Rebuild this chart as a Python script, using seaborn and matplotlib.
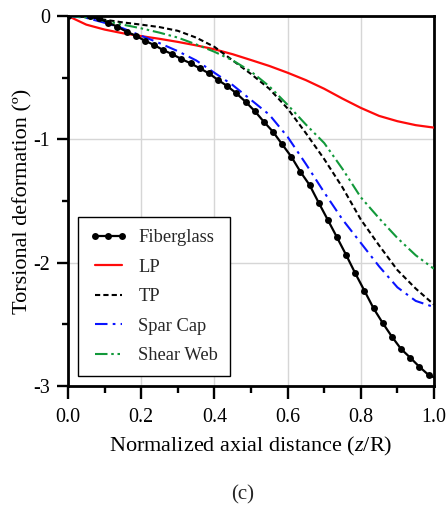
import numpy as np
import pandas as pd
import matplotlib
matplotlib.use("Agg")
import matplotlib.pyplot as plt
import seaborn as sns

# ---------------- data ----------------
z_fg = [0.0, 0.06, 0.085, 0.11, 0.135, 0.16, 0.185, 0.21, 0.235, 0.26,
        0.285, 0.31, 0.335, 0.36, 0.385, 0.41, 0.435, 0.46, 0.485, 0.51,
        0.535, 0.56, 0.585, 0.61, 0.635, 0.66, 0.685, 0.71, 0.735, 0.76,
        0.785, 0.81, 0.835, 0.86, 0.885, 0.91, 0.935, 0.96, 0.985, 1.0]
fiberglass = [0.0, 0.0, -0.02, -0.054, -0.087, -0.127, -0.16, -0.2, -0.235, -0.276,
              -0.31, -0.349, -0.384, -0.424, -0.465, -0.519, -0.568, -0.627, -0.695, -0.77,
              -0.857, -0.938, -1.04, -1.14, -1.263, -1.37, -1.514, -1.654, -1.795, -1.938,
              -2.087, -2.228, -2.371, -2.49, -2.6, -2.7, -2.77, -2.844, -2.91, -2.93]

z_grid = [0.0, 0.05, 0.1, 0.15, 0.2, 0.25, 0.3, 0.35, 0.4, 0.45, 0.5,
          0.55, 0.6, 0.65, 0.7, 0.75, 0.8, 0.85, 0.9, 0.95, 1.0]
lp = [0.0, -0.07, -0.11, -0.14, -0.163, -0.185, -0.21, -0.238, -0.27, -0.31, -0.357,
      -0.405, -0.46, -0.52, -0.59, -0.67, -0.745, -0.81, -0.853, -0.885, -0.905]
tp = [0.0, -0.005, -0.03, -0.052, -0.07, -0.09, -0.12, -0.175, -0.25, -0.36, -0.47,
      -0.59, -0.75, -0.95, -1.16, -1.39, -1.65, -1.86, -2.06, -2.21, -2.34]
spar_cap = [0.0, -0.015, -0.055, -0.1, -0.16, -0.22, -0.285, -0.36, -0.46, -0.56, -0.68,
            -0.8, -0.98, -1.2, -1.43, -1.65, -1.84, -2.03, -2.2, -2.31, -2.36]
shear_web = [0.0, -0.012, -0.04, -0.07, -0.1, -0.135, -0.175, -0.23, -0.29, -0.36, -0.45,
             -0.57, -0.72, -0.88, -1.03, -1.24, -1.47, -1.64, -1.8, -1.94, -2.05]

x_ticks = [0.0, 0.2, 0.4, 0.6, 0.8, 1.0]
x_ticklabels = ["0.0", "0.2", "0.4", "0.6", "0.8", "1.0"]
y_ticks = [0, -1, -2, -3]
y_ticklabels = ["0", "-1", "-2", "-3"]

# ---------------- style ----------------
sns.set_style("white")
plt.rcParams["font.family"] = ["Liberation Serif", "DejaVu Serif"]
plt.rcParams["mathtext.fontset"] = "custom"
plt.rcParams["mathtext.rm"] = "Liberation Serif"
plt.rcParams["mathtext.it"] = "Liberation Serif:italic"
plt.rcParams["axes.unicode_minus"] = False

FS_TICK = 14.4
FS_LAB = 16
FS_LEG = 13.3
fig = plt.figure(figsize=(4.46, 5.08), dpi=100)
ax = fig.add_axes([68 / 446, 1 - 386 / 508, (434 - 68) / 446, (386 - 16) / 508])

df_fg = pd.DataFrame({"z": z_fg, "v": fiberglass})
df = pd.DataFrame({"z": z_grid, "LP": lp, "TP": tp, "Spar Cap": spar_cap, "Shear Web": shear_web})

sns.lineplot(data=df_fg, x="z", y="v", ax=ax, color="black", lw=1.6,
             marker="o", markersize=5.0, markeredgewidth=0, markevery=slice(0, -1),
             label="Fiberglass", zorder=5)
sns.lineplot(data=df, x="z", y="LP", ax=ax, color="#ff0a0a", lw=1.6,
             linestyle="-", label="LP", zorder=4)
sns.lineplot(data=df, x="z", y="TP", ax=ax, color="black", lw=1.5,
             linestyle=(0, (2.5, 1.5)), label="TP", zorder=4)
sns.lineplot(data=df, x="z", y="Spar Cap", ax=ax, color="#0a14ff", lw=1.5,
             linestyle=(0, (6.0, 2.5, 1.3, 2.5)), label="Spar Cap", zorder=4)
sns.lineplot(data=df, x="z", y="Shear Web", ax=ax, color="#12993a", lw=1.5,
             linestyle=(0, (6.0, 1.8, 1.2, 1.8, 1.2, 1.8)), label="Shear Web", zorder=4)

ax.set_xlim(0, 1)
ax.set_ylim(-3, 0)
ax.set_xticks(x_ticks)
ax.set_xticklabels(x_ticklabels)
ax.set_yticks(y_ticks)
ax.set_yticklabels(y_ticklabels)
ax.set_xticks([0.1, 0.3, 0.5, 0.7, 0.9], minor=True)
ax.set_yticks([-0.5, -1.5, -2.5], minor=True)
ax.tick_params(axis="both", which="major", direction="out", width=1.7,
               labelsize=FS_TICK, color="black", labelcolor="black")
ax.tick_params(axis="x", which="major", length=9.4, pad=6.5)
ax.tick_params(axis="y", which="major", length=8, pad=5)
ax.tick_params(axis="x", which="minor", direction="out", length=5, width=1.7, color="black")
ax.tick_params(axis="y", which="minor", direction="out", length=4.5, width=1.7, color="black")
ax.tick_params(bottom=True, left=True, which="both")
ax.grid(True, which="major", color="#d6d6d6", lw=1.0)
ax.set_axisbelow(True)
for sp in ax.spines.values():
    sp.set_visible(True)
    sp.set_color("black")
    sp.set_linewidth(2.0)

ax.set_xlabel("Normalized axial distance ($\\mathit{z}$/R)", fontsize=FS_LAB, color="black")
ax.set_ylabel("Torsional deformation (\u00ba)", fontsize=FS_LAB, color="black")
ax.xaxis.set_label_coords(0.5, -0.133)
ax.yaxis.set_label_coords(-0.098, 0.5)

leg = ax.legend(loc="lower left", bbox_to_anchor=(0.027, 0.027), borderaxespad=0,
                fontsize=FS_LEG, frameon=True, fancybox=False, edgecolor="black",
                framealpha=1, numpoints=3, handlelength=2.05, handletextpad=0.6,
                labelspacing=0.68, borderpad=0.63)
leg.get_frame().set_linewidth(1.0)
for ln in leg.get_lines():
    ln.set_markevery(None)

fig.text(243 / 446, 1 - 495 / 508, "(c)", ha="center", va="center", fontsize=15)

fig.savefig("out.png", dpi=100)
